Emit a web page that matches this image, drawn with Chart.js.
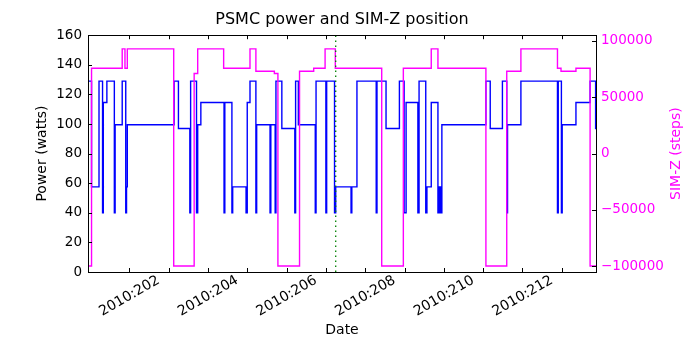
<!DOCTYPE html>
<html>
<head>
<meta charset="utf-8">
<title>PSMC power and SIM-Z position</title>
<script src="https://cdn.jsdelivr.net/npm/chart.js@4/dist/chart.umd.min.js"></script>
<style>
  html, body { margin: 0; padding: 0; background: #fff; }
  #wrap { width: 700px; height: 350px; }
</style>
</head>
<body>
<div id="wrap"><canvas id="psmcChart" width="700" height="350"></canvas></div>
<script>
// PSMC power telemetry (day of year 2010, watts), one entry per step change
const POWER_DAYS = [
  199.95, 200.04, 200.23, 200.32, 200.34, 200.43, 200.62, 200.64, 200.82, 200.91,
  200.93, 200.95, 202.14, 202.25, 202.54, 202.56, 202.71, 202.74, 202.82, 203.41,
  203.43, 203.61, 203.63, 203.97, 204.00, 204.07, 204.22, 204.24, 204.58, 204.60,
  204.71, 204.73, 204.88, 205.21, 205.23, 205.30, 205.73, 205.75, 206.00, 206.02,
  206.22, 206.25, 206.64, 206.66, 206.79, 207.28, 207.30, 207.53, 207.87, 207.99,
  208.04, 208.34, 208.37, 208.54, 208.57, 208.68, 208.85, 208.87, 208.89, 208.91,
  208.93, 208.95, 210.07, 210.18, 210.49, 210.60, 210.62, 210.96, 211.89, 211.91,
  211.99, 212.01, 212.36, 212.72, 212.86, 212.87
];
const POWER_WATTS = [
  129, 57.5, 129, 40, 114.5, 129, 40, 99.5, 129, 40,
  57.5, 99.5, 129, 97, 40, 129, 40, 99.5, 114.5, 40,
  114.5, 40, 57.5, 40, 114.5, 129, 40, 99.5, 40, 99.5,
  40, 129, 97, 40, 129, 99.5, 40, 129, 40, 129,
  40, 57.5, 40, 57.5, 129, 40, 129, 97, 129, 40,
  114.5, 40, 129, 40, 57.5, 114.5, 40, 57.5, 40, 57.5,
  40, 99.5, 129, 97, 129, 40, 99.5, 129, 40, 129,
  40, 99.5, 114.5, 129, 97, 97
];

// SIM translation table position (steps)
const SIMZ_DAYS = [
  199.95, 200.04, 200.82, 200.89, 200.95, 202.13, 202.65, 202.74, 203.40, 204.07,
  204.22, 204.69, 204.78, 205.33, 205.69, 205.98, 206.24, 207.42, 207.97, 208.68,
  208.85, 210.07, 210.60, 210.96, 211.89, 211.98, 212.36, 212.72, 212.87
];
const SIMZ_STEPS = [
  -99616, 75624, 92904, 75624, 92904, -99616, 71000, 92904, 75624, 92904,
  73000, 71000, -99616, 73000, 75624, 92904, 75624, -99616, 75624, 92904,
  75624, -99616, 73000, 92904, 75624, 73000, 75624, -99616, -99616
];

// time of interest, marked with a dotted line
const MARKER_DAY = 206.25;

const DAY_TICKS = [201, 202, 203, 204, 205, 206, 207, 208, 209, 210, 211, 212];
const SIMZ_TICKS = [-100000, -50000, 0, 50000, 100000];

const X_MIN = 199.95;
const X_MAX = 212.87;
const TICK_LEN = 4;
const MAGENTA = '#ff00ff';
const FONT = '"DejaVu Sans", sans-serif';

Chart.defaults.font.family = FONT;
Chart.defaults.font.size = 13.5;
Chart.defaults.color = '#000';

// matplotlib-style frame with inward tick marks, plus the right-hand axis label
const frameTicks = {
  id: 'frameTicks',
  afterDatasetsDraw(chart) {
    const { ctx, chartArea: a, scales } = chart;
    const snap = v => Math.round(v) + 0.5;
    ctx.save();
    ctx.strokeStyle = '#000';
    ctx.lineWidth = 1;
    ctx.beginPath();
    scales.x.ticks.forEach(t => {
      const px = snap(scales.x.getPixelForValue(t.value));
      ctx.moveTo(px, a.bottom); ctx.lineTo(px, a.bottom - TICK_LEN);
      ctx.moveTo(px, a.top); ctx.lineTo(px, a.top + TICK_LEN);
    });
    scales.y.ticks.forEach(t => {
      const py = snap(scales.y.getPixelForValue(t.value));
      ctx.moveTo(a.left, py); ctx.lineTo(a.left + TICK_LEN, py);
    });
    scales.y2.ticks.forEach(t => {
      const py = snap(scales.y2.getPixelForValue(t.value));
      ctx.moveTo(a.right, py); ctx.lineTo(a.right - TICK_LEN, py);
    });
    ctx.stroke();
    ctx.strokeRect(snap(a.left), snap(a.top), Math.round(a.right - a.left), Math.round(a.bottom - a.top));

    // right axis title reads bottom-to-top, like the left one
    ctx.translate(scales.y2.right - 24, (a.top + a.bottom) / 2);
    ctx.rotate(-Math.PI / 2);
    ctx.fillStyle = MAGENTA;
    ctx.font = '14px ' + FONT;
    ctx.textAlign = 'center';
    ctx.textBaseline = 'middle';
    ctx.fillText('SIM-Z (steps)', 0, 0);
    ctx.restore();
  }
};

function toPoints(xs, ys) {
  return xs.map((x, i) => ({ x: x, y: ys[i] }));
}

new Chart(document.getElementById('psmcChart'), {
  type: 'line',
  data: {
    datasets: [
      {
        label: 'marker',
        data: [{ x: MARKER_DAY, y: 0 }, { x: MARKER_DAY, y: 160 }],
        yAxisID: 'y',
        borderColor: '#008000',
        borderWidth: 1.3,
        borderDash: [1.4, 3.6],
        pointRadius: 0,
        order: 0
      },
      {
        label: 'SIM-Z',
        data: toPoints(SIMZ_DAYS, SIMZ_STEPS),
        yAxisID: 'y2',
        borderColor: MAGENTA,
        borderWidth: 1.4,
        stepped: 'before',
        pointRadius: 0,
        order: 1
      },
      {
        label: 'Power',
        data: toPoints(POWER_DAYS, POWER_WATTS),
        yAxisID: 'y',
        borderColor: '#0000ff',
        borderWidth: 1.4,
        stepped: 'before',
        pointRadius: 0,
        order: 2
      }
    ]
  },
  options: {
    responsive: false,
    animation: false,
    layout: { padding: 0 },
    plugins: {
      legend: { display: false },
      tooltip: { enabled: false },
      title: {
        display: true,
        text: 'PSMC power and SIM-Z position',
        fullSize: false,
        color: '#000',
        font: { size: 16, weight: 'normal' },
        padding: { top: 10, bottom: 6 }
      }
    },
    scales: {
      x: {
        type: 'linear',
        min: X_MIN,
        max: X_MAX,
        afterBuildTicks: s => { s.ticks = DAY_TICKS.map(v => ({ value: v })); },
        afterFit: s => { s.height = 78; },
        grid: { display: false, drawTicks: false },
        border: { display: false },
        ticks: {
          autoSkip: false,
          minRotation: 30,
          maxRotation: 30,
          padding: 0,
          labelOffset: -10,
          font: { size: 14 },
          callback: v => (v % 2 === 0 ? '2010:' + v : '')
        },
        title: { display: true, text: 'Date', font: { size: 14 }, padding: { top: 0, bottom: 11 } }
      },
      y: {
        position: 'left',
        min: 0,
        max: 160,
        afterFit: s => { s.width = 88; },
        grid: { display: false, drawTicks: false },
        border: { display: false },
        ticks: { stepSize: 20, padding: 6 },
        title: { display: true, text: 'Power (watts)', font: { size: 14 }, padding: { top: 34 } }
      },
      y2: {
        position: 'right',
        min: -105000,
        max: 105000,
        afterBuildTicks: s => { s.ticks = SIMZ_TICKS.map(v => ({ value: v })); },
        afterFit: s => { s.width = 104; },
        grid: { display: false, drawTicks: false },
        border: { display: false },
        ticks: {
          color: MAGENTA,
          padding: 5,
          callback: v => (v < 0 ? '\u2212' + Math.abs(v) : String(v))
        }
      }
    }
  },
  plugins: [frameTicks]
});
</script>
</body>
</html>
